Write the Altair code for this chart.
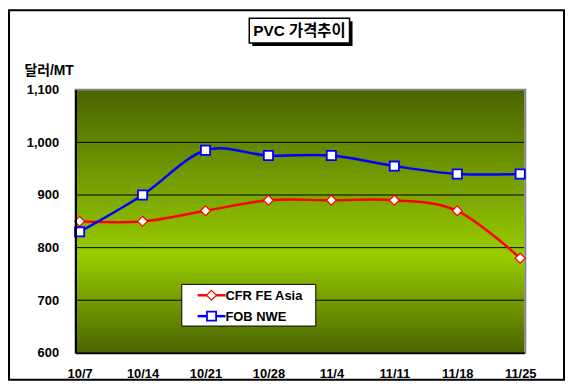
import altair as alt
import pandas as pd

# ---- data ----
dates = ["10/7", "10/14", "10/21", "10/28", "11/4", "11/11", "11/18", "11/25"]
cfr_fe_asia = [850, 850, 870, 890, 890, 890, 870, 780]
fob_nwe = [830, 900, 985, 975, 975, 955, 940, 940]
series_names = ["CFR FE Asia", "FOB NWE"]
series_colors = ["#ff0000", "#0000ff"]
series_shapes = ["diamond", "square"]
y_ticks = [600, 700, 800, 900, 1000, 1100]
grid_values = [700, 800, 900, 1000]
chart_title = "PVC 가격추이"
y_title = "달러/MT"

W, H = 452, 265
FONT = "Liberation Sans, Noto Sans CJK KR, sans-serif"

rows = []
for i, d in enumerate(dates):
    rows.append({"date": d, "series": series_names[0], "price": cfr_fe_asia[i], "order": i})
    rows.append({"date": d, "series": series_names[1], "price": fob_nwe[i], "order": i})
df = pd.DataFrame(rows)
one = pd.DataFrame({"k": [0]})

x_enc = alt.X(
    "date:N", sort=dates,
    scale=alt.Scale(type="point", padding=0.065),
    axis=alt.Axis(title=None, labelFont=FONT, labelFontSize=13, labelFontWeight="bold",
                  labelColor="black", labelPadding=15, labelAngle=0, ticks=False, grid=False,
                  domainColor="black", domainWidth=2, zindex=1),
)
y_scale = alt.Scale(domain=[600, 1100], nice=False, zero=False)
y_axis = alt.Axis(values=y_ticks, format=",.0f", title=y_title, titleAngle=0, titleX=-52, titleY=-15,
                  titleAlign="left", titleBaseline="alphabetic", titleFont=FONT, titleFontSize=14,
                  titleFontWeight="bold", titleColor="black", labelFont=FONT, labelFontSize=13,
                  labelFontWeight="bold", labelColor="black", labelPadding=17, ticks=False,
                  grid=False, domainColor="black", domainWidth=2, zindex=1)
y_enc = alt.Y("price:Q", scale=y_scale, axis=y_axis)

gradient = {
    "gradient": "linear", "x1": 0, "y1": 0, "x2": 0, "y2": 1,
    "stops": [
        {"offset": 0, "color": "#4a6400"},
        {"offset": 0.63, "color": "#99cc00"},
        {"offset": 1, "color": "#4a6400"},
    ],
}

bg = alt.Chart(one).mark_rect(fill=gradient).encode(
    x=alt.value(0), x2=alt.value(W), y=alt.value(0), y2=alt.value(H))

border = alt.Chart(one).mark_rect(fill="transparent", stroke="#808080", strokeWidth=2).encode(
    x=alt.value(0), x2=alt.value(W + 1), y=alt.value(0), y2=alt.value(H))

grid = alt.Chart(pd.DataFrame({"price": grid_values})).mark_rule(color="black", strokeWidth=1).encode(
    y=y_enc)

lines = alt.Chart(df).mark_line(interpolate="cardinal", strokeWidth=2.5).encode(
    x=x_enc, y=y_enc,
    color=alt.Color("series:N", scale=alt.Scale(domain=series_names, range=series_colors), legend=None),
    order=alt.Order("order:Q"),
)

marker_sizes = [100, 85]
marker_strokes = [1.2, 1.8]
point_layers = []
for i, name in enumerate(series_names):
    point_layers.append(
        alt.Chart(df).transform_filter(alt.datum.series == name).mark_point(
            shape=series_shapes[i], filled=False, fill="white", fillOpacity=1, opacity=1,
            size=marker_sizes[i], stroke=series_colors[i], strokeWidth=marker_strokes[i]
        ).encode(x=x_enc, y=y_enc)
    )

# ---- legend (drawn as decoration) ----
legend_box = alt.Chart(one).mark_rect(fill="white", stroke="black", strokeWidth=1).encode(
    x=alt.value(107), x2=alt.value(242), y=alt.value(196), y2=alt.value(238))
legend_layers = [legend_box]
for i, name in enumerate(series_names):
    ly = 207 + 21 * i
    legend_layers.append(alt.Chart(one).mark_rule(color=series_colors[i], strokeWidth=2.5).encode(
        x=alt.value(123), x2=alt.value(151), y=alt.value(ly)))
    legend_layers.append(alt.Chart(one).mark_point(
        shape=series_shapes[i], filled=False, fill="white", fillOpacity=1, opacity=1,
        size=marker_sizes[i], stroke=series_colors[i], strokeWidth=marker_strokes[i]).encode(
        x=alt.value(137), y=alt.value(ly)))
    legend_layers.append(alt.Chart(one).mark_text(
        text=name, font=FONT, fontSize=13, fontWeight="bold", color="black",
        align="left", baseline="middle").encode(x=alt.value(151), y=alt.value(ly + 0.5)))

title_shadow = alt.Chart(one).mark_rect(fill="black").encode(
    x=alt.value(178), x2=alt.value(279), y=alt.value(-69), y2=alt.value(-44))
title_box = alt.Chart(one).mark_rect(fill="white", stroke="black", strokeWidth=1.5).encode(
    x=alt.value(175), x2=alt.value(276), y=alt.value(-72), y2=alt.value(-47))
title_text = alt.Chart(one).mark_text(
    text=chart_title, font=FONT, fontSize=15.5, fontWeight="bold", color="black",
    align="center", baseline="middle").encode(x=alt.value(225.5), y=alt.value(-59))

frame = alt.Chart(one).mark_rect(fill="transparent", stroke="black", strokeWidth=2).encode(
    x=alt.value(-67), x2=alt.value(492), y=alt.value(-80), y2=alt.value(292))

chart = alt.layer(
    bg, grid, border, lines, *point_layers, *legend_layers,
    title_shadow, title_box, title_text, frame
).properties(
    width=W, height=H,
    autosize=alt.AutoSizeParams(type="none"),
    padding={"left": 68, "top": 81, "right": 41, "bottom": 29},
    background="white",
).configure_view(stroke="transparent")

chart.save("out.html", embed_options={"renderer": "svg", "actions": False})
